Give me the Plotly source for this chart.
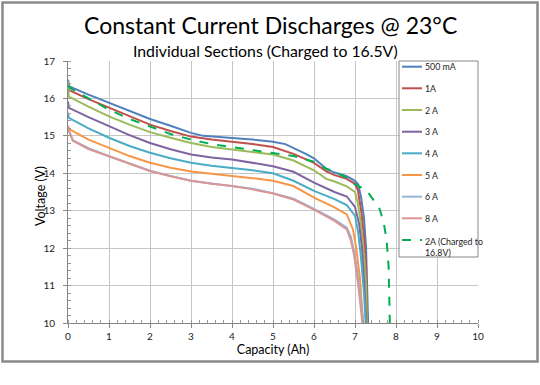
import plotly.graph_objects as go

# ---------------- data ----------------
names = ["500 mA", "1A", "2 A", "3 A", "4 A", "5 A", "6 A", "8 A", "2A (Charged to 16.8V)"]
colors = ["#4F81BD", "#C0504D", "#9BBB59", "#8064A2", "#4BACC6", "#F79646", "#95B3D7", "#D99694", "#00B050"]

cap_500mA = [0, 0.03, 0.5, 1, 1.5, 2, 2.5, 3, 3.3, 3.5, 4, 4.5, 5, 5.3, 5.5, 5.8, 6, 6.3, 6.5, 6.8, 7.0, 7.08, 7.15, 7.22, 7.27, 7.3, 7.32]
v_500mA = [16.5, 16.32, 16.1, 15.88, 15.65, 15.45, 15.27, 15.08, 15.0, 14.98, 14.94, 14.9, 14.84, 14.78, 14.68, 14.52, 14.4, 14.12, 14.02, 13.92, 13.8, 13.7, 13.35, 12.8, 12.0, 11.0, 10.0]

cap_1A = [0, 0.03, 0.5, 1, 1.5, 2, 2.5, 3, 3.5, 4, 4.5, 5, 5.5, 6, 6.3, 6.5, 6.8, 7.0, 7.07, 7.15, 7.22, 7.27, 7.3]
v_1A = [16.3, 16.22, 15.98, 15.76, 15.52, 15.3, 15.13, 14.98, 14.9, 14.85, 14.78, 14.7, 14.52, 14.28, 14.05, 13.95, 13.85, 13.72, 13.55, 13.0, 12.3, 11.5, 10.0]

cap_2A = [0, 0.02, 0.5, 1, 1.5, 2, 2.5, 3, 3.5, 4, 4.5, 5, 5.5, 6, 6.3, 6.5, 6.8, 7.0, 7.07, 7.15, 7.22, 7.27, 7.29]
v_2A = [16.45, 16.05, 15.78, 15.52, 15.3, 15.1, 14.95, 14.81, 14.7, 14.64, 14.57, 14.5, 14.34, 14.08, 13.85, 13.78, 13.65, 13.5, 13.2, 12.6, 11.8, 11.0, 10.0]

cap_3A = [0, 0.02, 0.5, 1, 1.5, 2, 2.5, 3, 3.5, 4, 4.5, 5, 5.5, 6, 6.5, 6.8, 7.0, 7.1, 7.17, 7.23, 7.27]
v_3A = [15.92, 15.75, 15.5, 15.26, 15.02, 14.81, 14.64, 14.5, 14.42, 14.37, 14.28, 14.19, 14.04, 13.75, 13.5, 13.38, 13.1, 12.65, 12.0, 11.0, 10.0]

cap_4A = [0, 0.02, 0.5, 1, 1.5, 2, 2.5, 3, 3.5, 4, 4.5, 5, 5.5, 6, 6.5, 6.8, 7.0, 7.08, 7.15, 7.22, 7.26]
v_4A = [15.62, 15.48, 15.2, 14.95, 14.73, 14.55, 14.4, 14.28, 14.2, 14.15, 14.08, 14.0, 13.8, 13.53, 13.31, 13.15, 12.87, 12.4, 11.7, 10.8, 10.0]

cap_5A = [0, 0.03, 0.5, 1, 1.5, 2, 2.5, 3, 3.5, 4, 4.5, 5, 5.5, 6, 6.5, 6.8, 6.95, 7.03, 7.12, 7.2]
v_5A = [15.27, 15.18, 14.9, 14.68, 14.46, 14.28, 14.15, 14.05, 13.98, 13.93, 13.87, 13.8, 13.66, 13.35, 13.09, 12.9, 12.5, 12.0, 11.2, 10.0]

cap_6A = [0, 0.05, 0.12, 0.5, 1, 1.5, 2, 2.5, 3, 3.5, 4, 4.5, 5, 5.5, 6, 6.5, 6.8, 6.9, 7.0, 7.1, 7.2]
v_6A = [15.22, 15.05, 14.88, 14.67, 14.46, 14.26, 14.07, 13.93, 13.8, 13.73, 13.67, 13.59, 13.47, 13.32, 13.05, 12.76, 12.55, 12.3, 11.8, 11.0, 10.0]

cap_8A = [0, 0.05, 0.12, 0.5, 1, 1.5, 2, 2.5, 3, 3.5, 4, 4.5, 5, 5.5, 6, 6.5, 6.8, 6.9, 6.98, 7.08, 7.18]
v_8A = [15.2, 15.05, 14.87, 14.65, 14.45, 14.25, 14.06, 13.92, 13.8, 13.72, 13.66, 13.57, 13.46, 13.3, 13.03, 12.73, 12.5, 12.2, 11.8, 11.0, 10.0]

cap_2A_168 = [0, 0.05, 0.5, 1, 1.5, 2, 2.5, 3, 3.5, 4, 4.5, 5, 5.5, 6, 6.3, 6.5, 6.8, 7.0, 7.2, 7.3, 7.45, 7.6, 7.7, 7.77, 7.82, 7.85]
v_2A_168 = [16.35, 16.28, 16.0, 15.7, 15.45, 15.24, 15.05, 14.9, 14.78, 14.7, 14.62, 14.55, 14.46, 14.31, 14.12, 14.04, 13.88, 13.7, 13.6, 13.52, 13.3, 13.05, 12.68, 12.23, 11.5, 10.0]

caps = [cap_500mA, cap_1A, cap_2A, cap_3A, cap_4A, cap_5A, cap_6A, cap_8A, cap_2A_168]
volts = [v_500mA, v_1A, v_2A, v_3A, v_4A, v_5A, v_6A, v_8A, v_2A_168]
legend_labels = ["500 mA", "1A", "2 A", "3 A", "4 A", "5 A", "6 A", "8 A", "2A (Charged to<br>16.8V)"]

x_ticks = list(range(0, 11))
y_ticks = list(range(10, 18))

FONT = "Lato, 'Open Sans', sans-serif"

fig = go.Figure()
for i, (name, col) in enumerate(zip(names, colors)):
    dash = "dash" if i == len(names) - 1 else "solid"
    fig.add_trace(go.Scatter(
        x=caps[i], y=volts[i], mode="lines", name=name,
        line=dict(color=col, width=2, dash=dash),
        showlegend=False,
    ))

W, H = 540, 385
ml, mr, mt, mb = 68, 62, 61, 62
pw, ph = W - ml - mr, H - mt - mb

def px2x(px):
    return (px - ml) / pw

def py2y(py):
    return (H - mb - py) / ph

shapes = []
annotations = []

# outer chart border
shapes.append(dict(type="rect", xref="paper", yref="paper",
                   x0=px2x(2.5), x1=px2x(537.5), y0=py2y(361.5), y1=py2y(2.5),
                   line=dict(color="#8a8a8a", width=2.5), fillcolor="rgba(0,0,0,0)", layer="below"))

# manual legend box
lx0, lx1, ly0, ly1 = 399, 478, 61, 257
shapes.append(dict(type="rect", xref="paper", yref="paper",
                   x0=px2x(lx0), x1=px2x(lx1), y0=py2y(ly1), y1=py2y(ly0),
                   line=dict(color="#868686", width=1), fillcolor="white", layer="above"))
item_y = [66.7, 88.3, 110, 131.7, 153.3, 175, 196.7, 218.3, 240]
for i, (lab, col) in enumerate(zip(legend_labels, colors)):
    dash = "dash" if i == len(names) - 1 else "solid"
    shapes.append(dict(type="line", xref="paper", yref="paper",
                       x0=px2x(402), x1=px2x(422), y0=py2y(item_y[i]), y1=py2y(item_y[i]),
                       line=dict(color=col, width=2, dash=dash), layer="above"))
    if i == len(names) - 1:
        annotations.append(dict(text=lab, xref="paper", yref="paper", x=px2x(423), y=py2y(item_y[i] - 6.5),
                                xanchor="left", yanchor="top", showarrow=False, align="left",
                                font=dict(family=FONT, size=8.8, color="#222")))
    else:
        annotations.append(dict(text=lab, xref="paper", yref="paper", x=px2x(423), y=py2y(item_y[i]),
                                xanchor="left", yanchor="middle", showarrow=False,
                                font=dict(family=FONT, size=8.8, color="#222")))

# titles
annotations.append(dict(text="Constant Current Discharges @ 23°C", xref="paper", yref="paper",
                        x=px2x(270.5), y=py2y(25), xanchor="center", yanchor="middle", showarrow=False,
                        font=dict(family=FONT, size=23, color="#000")))
annotations.append(dict(text="Individual Sections (Charged to 16.5V)", xref="paper", yref="paper",
                        x=px2x(265), y=py2y(50), xanchor="center", yanchor="middle", showarrow=False,
                        font=dict(family=FONT, size=15.8, color="#000")))
# y-axis title
annotations.append(dict(text="Voltage (V)", xref="paper", yref="paper",
                        x=px2x(40), y=py2y(196), xanchor="center", yanchor="middle", showarrow=False,
                        textangle=-90, font=dict(family=FONT, size=12.5, color="#000")))

axis_common = dict(showgrid=True, gridcolor="#c6c6c6", gridwidth=1,
                   showline=True, linecolor="#868686", linewidth=1,
                   ticks="outside", ticklen=4, tickcolor="#868686",
                   tickfont=dict(family=FONT, size=10, color="#222"),
                   zeroline=False)

fig.update_layout(
    width=W, height=H,
    margin=dict(l=ml, r=mr, t=mt, b=mb, autoexpand=False),
    paper_bgcolor="white", plot_bgcolor="white",
    showlegend=False,
    shapes=shapes, annotations=annotations,
    xaxis=dict(range=[0, 10], tickvals=x_ticks, ticktext=[str(t) for t in x_ticks],
               title=dict(text="Capacity (Ah)", font=dict(family=FONT, size=12.5, color="#000"), standoff=2),
               minor=dict(dtick=0.2, ticks="inside", ticklen=3, tickcolor="#9a9a9a", showgrid=False),
               **axis_common),
    yaxis=dict(range=[10, 17], tickvals=y_ticks, ticktext=[str(t) for t in y_ticks],
               ticklabelstandoff=6,
               minor=dict(dtick=0.2, ticks="inside", ticklen=3, tickcolor="#9a9a9a", showgrid=False),
               **axis_common),
)

fig.write_html("out.html", config={"displayModeBar": False},
               post_script="document.body.style.margin='0';document.body.style.overflow='hidden';")
